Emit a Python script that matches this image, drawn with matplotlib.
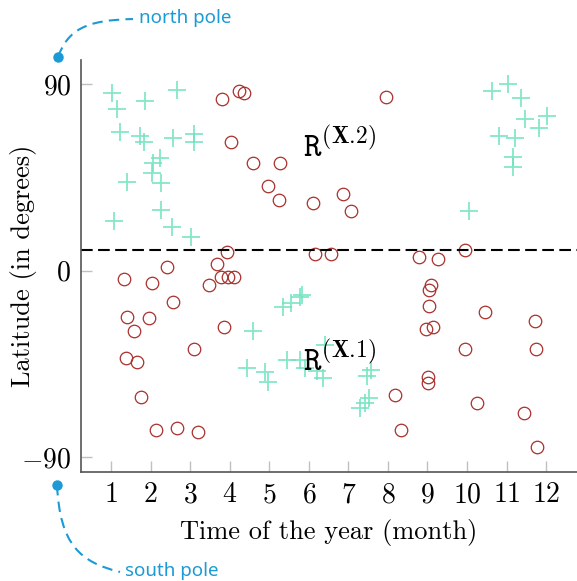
"""Latitude of two record groups across the year."""

import matplotlib

matplotlib.use("Agg")

import matplotlib.pyplot as plt
from matplotlib.path import Path
from matplotlib.patches import PathPatch

plt.rcParams["font.family"] = "cmr10"
plt.rcParams["mathtext.fontset"] = "cm"
plt.rcParams["axes.formatter.use_mathtext"] = True
plt.rcParams["axes.unicode_minus"] = True

# group X.2 (crosses): month, latitude
cross_month = [
    1.02, 1.15, 1.86, 2.66, 1.23, 1.73, 1.82, 2.56, 3.10, 3.10,
    2.24, 2.05, 2.03, 2.27, 1.41, 2.27, 1.08, 2.54, 3.02,
    5.35, 5.56, 5.77, 5.82, 4.59, 4.43, 4.89, 4.97, 5.44, 5.77,
    5.90, 6.21, 6.36, 6.40, 7.58, 7.46, 7.52, 7.41, 7.29,
    10.04, 10.64, 11.03, 11.37, 11.47, 12.03, 11.83, 10.80, 11.22,
    11.16, 11.16,
]
cross_lat = [
    85.8, 77.8, 81.8, 87.1, 67.0, 64.9, 62.2, 63.8, 65.7, 62.2,
    54.1, 52.0, 46.9, 42.1, 42.9, 29.2, 24.0, 21.1, 16.0,
    -17.5, -15.8, -12.6, -11.8, -29.1, -47.2, -48.8, -53.7, -43.2, -43.0,
    -47.0, -48.6, -51.8, -36.0, -47.8, -51.0, -61.4, -63.9, -66.3,
    28.9, 86.8, 90.0, 83.1, 73.0, 74.7, 68.9, 64.9, 63.8,
    54.6, 50.1,
]

# group X.1 (circles): month, latitude
circle_month = [
    3.81, 4.24, 4.36, 4.02, 4.60, 5.27, 4.98, 5.25, 6.11, 6.87,
    7.06, 7.94, 3.94, 6.15, 6.55, 8.79, 9.26, 9.96, 2.41, 3.68,
    1.33, 2.03, 3.48, 3.78, 3.95, 4.11, 9.10, 9.03, 9.03, 9.14,
    8.97, 10.46, 11.72, 2.57, 1.40, 1.96, 1.59, 3.85, 3.10, 1.38,
    1.65, 1.75, 2.14, 2.66, 3.19, 9.96, 11.75, 9.02, 9.02, 8.17,
    10.25, 11.45, 8.32, 11.76,
]
circle_lat = [
    82.8, 86.8, 85.8, 61.9, 51.7, 51.7, 40.9, 33.9, 32.7, 36.8,
    28.9, 83.9, 8.9, 8.0, 8.0, 6.7, 5.5, 9.9, 1.8, 3.1,
    -4.1, -6.2, -7.0, -3.0, -3.0, -3.0, -7.0, -9.4, -17.0, -27.1,
    -28.2, -20.2, -24.2, -15.1, -22.3, -23.1, -29.1, -27.1, -38.0, -42.1,
    -44.0, -60.9, -77.0, -76.2, -78.1, -38.0, -38.0, -51.5, -54.1, -60.1,
    -64.1, -68.9, -77.0, -85.0,
]

threshold_lat = 10
months = list(range(1, 13))
lat_ticks = [-90, 0, 90]

fig = plt.figure(figsize=(5.77, 5.81), dpi=100)
ax = fig.add_axes([0.1404, 0.1876, 0.8596, 0.7091])

ax.plot(cross_month, cross_lat, linestyle="none", marker="+", markersize=12.5,
        markeredgewidth=1.3, color="#6fe3bd", alpha=0.85)
ax.plot(circle_month, circle_lat, linestyle="none", marker="o", markersize=9,
        markeredgewidth=0.9, markerfacecolor="none", markeredgecolor="#a8302b")
ax.axhline(threshold_lat, color="black", linewidth=1.5, linestyle=(0, (5.6, 2.6)))

# \! cancels the thin space mathtext puts after a period
ax.text(5.86, 54.8, r"$\mathtt{R}^{(\mathbf{X}.\!2)}$", fontsize=24,
        ha="left", va="baseline")
ax.text(5.85, -48.5, r"$\mathtt{R}^{(\mathbf{X}.\!1)}$", fontsize=24,
        ha="left", va="baseline")

ax.set_xlim(0.24, 12.78)
ax.set_ylim(-97.2, 101.6)
ax.set_xticks(months)
ax.set_yticks(lat_ticks)
ax.tick_params(direction="in", length=8, width=1, color="#c0c0c0",
               labelsize=20, pad=7)
for side in ("top", "right"):
    ax.spines[side].set_visible(False)
for side in ("left", "bottom"):
    ax.spines[side].set_color("#555555")
    ax.spines[side].set_linewidth(1.2)

ax.set_xlabel("Time of the year (month)", fontsize=19, labelpad=8)
ax.set_ylabel("Latitude (in degrees)", fontsize=19)
ax.yaxis.set_label_coords(-0.088, 0.5)

# pole callouts outside the axes
pole_blue = "#1b9ad6"
codes = [Path.MOVETO, Path.CURVE4, Path.CURVE4, Path.CURVE4]
north_path = Path([(-0.0464, 1.0073), (-0.0262, 1.0728), (0.0081, 1.0971),
                   (0.1048, 1.0995)], codes)
south_path = Path([(-0.0484, -0.0316), (-0.0423, -0.1772), (-0.0020, -0.2184),
                   (0.0786, -0.2427)], codes)
for pole_path in (north_path, south_path):
    ax.add_patch(PathPatch(pole_path, transform=ax.transAxes, facecolor="none",
                           edgecolor=pole_blue, linewidth=1.5,
                           linestyle=(0, (5, 3)), clip_on=False))
ax.plot([-0.0464, -0.0484], [1.0073, -0.0316], linestyle="none", marker="o",
        markersize=6.5, color=pole_blue, transform=ax.transAxes, clip_on=False)
ax.text(0.1169, 1.1019, "north pole", transform=ax.transAxes, color=pole_blue,
        fontsize=13.5, family="Noto Sans", ha="left", va="center")
ax.text(0.0887, -0.2403, "south pole", transform=ax.transAxes, color=pole_blue,
        fontsize=13.5, family="Noto Sans", ha="left", va="center")

fig.savefig("out.png", dpi=100)
